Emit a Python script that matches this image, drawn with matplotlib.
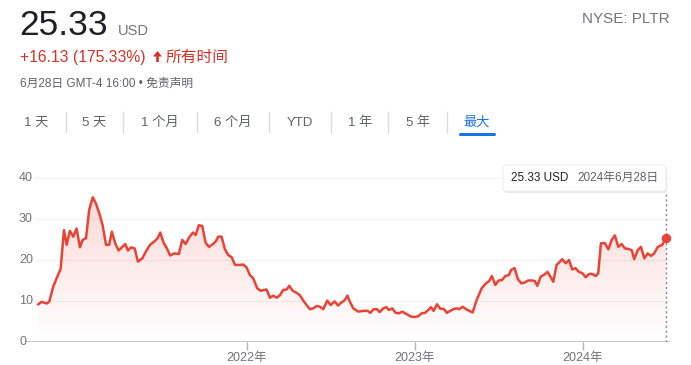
import matplotlib
matplotlib.use('Agg')
import numpy as np
from matplotlib import pyplot as plt
from matplotlib.transforms import Affine2D, blended_transform_factory
from matplotlib.patches import FancyBboxPatch, Polygon, FancyArrow

plt.rcParams['font.family'] = ['Liberation Sans', 'Noto Sans CJK SC', 'DejaVu Sans']

# time as decimal year, price in USD
t = [2020.758, 2020.778, 2020.808, 2020.823, 2020.847, 2020.867, 2020.891, 2020.911, 2020.927, 2020.946,
     2020.966, 2020.986, 2021.006, 2021.022, 2021.042, 2021.061, 2021.082, 2021.101, 2021.121, 2021.141,
     2021.161, 2021.180, 2021.196, 2021.216, 2021.236, 2021.256, 2021.276, 2021.292, 2021.311, 2021.332,
     2021.351, 2021.377, 2021.403, 2021.423, 2021.448, 2021.468, 2021.484, 2021.504, 2021.524, 2021.543,
     2021.567, 2021.595, 2021.615, 2021.635, 2021.659, 2021.679, 2021.695, 2021.714, 2021.734, 2021.754,
     2021.774, 2021.798, 2021.814, 2021.829, 2021.849, 2021.869, 2021.889, 2021.909, 2021.929, 2021.958,
     2021.978, 2021.998, 2022.018, 2022.038, 2022.061, 2022.082, 2022.101, 2022.117, 2022.137, 2022.157,
     2022.177, 2022.196, 2022.216, 2022.236, 2022.252, 2022.272, 2022.296, 2022.315, 2022.335, 2022.355,
     2022.375, 2022.395, 2022.415, 2022.435, 2022.454, 2022.478, 2022.498, 2022.522, 2022.542, 2022.561,
     2022.582, 2022.598, 2022.613, 2022.633, 2022.663, 2022.692, 2022.718, 2022.734, 2022.754, 2022.774,
     2022.790, 2022.811, 2022.829, 2022.845, 2022.865, 2022.885, 2022.905, 2022.924, 2022.951, 2022.976,
     2023.000, 2023.020, 2023.040, 2023.060, 2023.079, 2023.095, 2023.111, 2023.131, 2023.151, 2023.171,
     2023.190, 2023.210, 2023.234, 2023.248, 2023.264, 2023.284, 2023.304, 2023.323, 2023.343, 2023.367,
     2023.397, 2023.423, 2023.442, 2023.458, 2023.478, 2023.498, 2023.518, 2023.538, 2023.558, 2023.573,
     2023.593, 2023.613, 2023.633, 2023.653, 2023.673, 2023.696, 2023.713, 2023.728, 2023.748, 2023.772,
     2023.788, 2023.808, 2023.823, 2023.843, 2023.863, 2023.877, 2023.897, 2023.917, 2023.936, 2023.956,
     2023.976, 2023.996, 2024.016, 2024.036, 2024.055, 2024.076, 2024.091, 2024.107, 2024.131, 2024.151,
     2024.171, 2024.190, 2024.210, 2024.230, 2024.250, 2024.270, 2024.290, 2024.305, 2024.326, 2024.345,
     2024.365, 2024.385, 2024.405, 2024.424, 2024.445, 2024.472, 2024.492]
price = [9.2, 9.8, 9.4, 9.8, 13.5, 15.5, 17.8, 27.3, 23.7, 27.1,
         25.7, 27.7, 23.1, 24.9, 25.3, 32.2, 35.3, 33.8, 31.4, 28.5,
         23.7, 23.7, 26.9, 24.1, 22.3, 23.1, 23.9, 22.3, 23.1, 22.8,
         19.6, 20.4, 22.4, 23.7, 24.5, 25.3, 26.7, 24.2, 22.8, 21.1,
         21.6, 21.5, 24.9, 23.9, 25.7, 26.7, 26.1, 28.5, 28.3, 24.2,
         23.2, 23.9, 24.5, 25.7, 25.7, 22.6, 21.2, 20.7, 18.8, 18.8,
         18.9, 18.2, 16.3, 15.5, 13.1, 12.5, 12.7, 12.8, 10.8, 11.3,
         10.8, 11.4, 12.7, 12.8, 13.7, 12.5, 12.0, 11.4, 10.1, 9.0,
         8.0, 8.2, 8.8, 8.6, 8.0, 10.1, 9.0, 9.9, 8.9, 9.6,
         10.2, 11.3, 9.8, 8.2, 7.4, 7.6, 7.6, 7.1, 8.0, 8.0,
         7.3, 8.2, 8.5, 7.8, 8.2, 7.1, 7.0, 7.4, 6.8, 6.2,
         6.1, 6.3, 7.0, 7.1, 7.8, 8.5, 7.6, 9.2, 8.1, 8.1,
         7.1, 7.6, 8.1, 8.2, 8.0, 8.6, 8.0, 7.6, 7.2, 10.2,
         13.1, 14.3, 14.9, 16.1, 13.9, 15.0, 15.1, 16.1, 16.3, 17.6,
         18.0, 15.3, 14.3, 14.5, 15.0, 15.0, 14.9, 13.7, 15.9, 16.5,
         17.1, 15.8, 14.7, 18.8, 19.6, 20.2, 19.2, 20.0, 17.7, 18.0,
         17.1, 16.8, 15.8, 16.6, 16.6, 16.1, 16.8, 24.1, 24.1, 22.6,
         24.9, 26.0, 23.2, 23.9, 22.8, 22.7, 22.4, 20.2, 22.4, 23.2,
         20.4, 21.6, 21.0, 21.6, 23.2, 23.7, 25.33]

year_ticks = [2022, 2023, 2024]
year_labels = ['2022年', '2023年', '2024年']
y_ticks = [0, 10, 20, 30, 40]

tabs = ['1 天', '5 天', '1 个月', '6 个月', 'YTD', '1 年', '5 年', '最大']
tab_x = [36.5, 94.5, 160, 232.5, 299.5, 360, 418.5, 476.5]
sep_x = [66, 123, 197, 269, 331, 388, 447]

RED = '#ea4335'
GREY = '#70757a'
DARK = '#202124'

W, H = 691, 365
fig = plt.figure(figsize=(W / 100, H / 100), dpi=100)
pix = Affine2D().scale(1 / W, -1 / H).translate(0, 1) + fig.transFigure

# header
fig.text(19, 35, '25.33', transform=pix, fontsize=25.5, color=DARK, va='baseline')
fig.text(118, 35, 'USD', transform=pix, fontsize=10.5, color=GREY, va='baseline')
fig.text(20, 62, '+16.13 (175.33%)', transform=pix, fontsize=11.3, color='#d93025', va='baseline')
fig.add_artist(FancyArrow(157.5, 62, 0, -11, width=2.6, head_width=9, head_length=5.5,
                          length_includes_head=True, transform=pix, color='#d93025', lw=0))
fig.text(166, 62, '所有时间', transform=pix, fontsize=11.3, color='#d93025', va='baseline')
fig.text(20, 87, '6月28日 GMT-4 16:00 • 免责声明', transform=pix, fontsize=8.5, color='#5f6368', va='baseline')
fig.text(670, 23, 'NYSE: PLTR', transform=pix, fontsize=11, color=GREY, va='baseline', ha='right')

# range tabs
for lbl, x in zip(tabs, tab_x):
    c = '#1a73e8' if lbl == '最大' else '#5f6368'
    fig.text(x, 123, lbl, transform=pix, fontsize=9.5, color=c, ha='center', va='center')
for x in sep_x:
    fig.add_artist(plt.Line2D([x, x], [112, 132], transform=pix, color='#dadce0', lw=1))
fig.add_artist(FancyBboxPatch((459, 133), 37, 3, boxstyle='round,pad=0,rounding_size=1.5',
                              transform=pix, color='#1a73e8', lw=0))

# chart area
ax = fig.add_axes([26 / W, 1 - 342 / H, 644 / W, (342 - 178) / H])
for s in ax.spines.values():
    s.set_visible(False)

for v in y_ticks[1:]:
    ax.axhline(v, xmin=0.014, color='#f1f3f4', lw=1, zorder=0, clip_on=False)
ax.axhline(0, color='#b0b3b8', lw=1.8, zorder=1)

ax.plot(t, price, color=RED, lw=1.8, zorder=3, solid_joinstyle='round')

# gradient fill under the line
vmax = max(price)
poly = Polygon(np.column_stack([[t[0]] + t + [t[-1]], [0] + price + [0]]), closed=True,
               facecolor='none', edgecolor='none')
ax.add_patch(poly)
grad = np.zeros((100, 2, 4))
grad[:, :, :3] = matplotlib.colors.to_rgb(RED)
grad[:, :, 3] = np.linspace(0.0, 0.2, 100)[:, None]
im = ax.imshow(grad, extent=[t[0], t[-1], 0, vmax], origin='lower', aspect='auto', zorder=2)
im.set_clip_path(poly)

# end marker + hover line
ax.plot([t[-1], t[-1]], [0, 36.6], ls=(0, (1.5, 2)), color='#80868b', lw=1, zorder=2)
ax.scatter([t[-1]], [price[-1]], s=34, color=RED, zorder=4, clip_on=False)

ax.set_xlim(2020.685, 2024.518)
ax.set_ylim(0, 40)
ax.set_yticks([])
ax.set_xticks(year_ticks)
ax.set_xticklabels(year_labels, fontsize=9, color=GREY)
ax.tick_params(axis='x', length=6, width=1, color='#b0b3b8', pad=1)

ytr = blended_transform_factory(fig.transFigure, ax.transData)
for v in y_ticks:
    ax.text(19 / W, v, str(v), transform=ytr, fontsize=9, color=GREY, va='center', ha='left')

# tooltip
fig.add_artist(FancyBboxPatch((504, 166), 163, 27, boxstyle='round,pad=0,rounding_size=3',
                              transform=pix, facecolor='#000000', alpha=0.08, lw=0))
fig.add_artist(FancyBboxPatch((503, 165), 163, 26, boxstyle='round,pad=0,rounding_size=3',
                              transform=pix, facecolor='white', edgecolor='#e8eaed', lw=0.6))
fig.text(511, 178, '25.33 USD', transform=pix, fontsize=8.5, color=DARK, va='center')
fig.text(577, 178, '2024年6月28日', transform=pix, fontsize=8.5, color='#5f6368', va='center')

fig.savefig('out.png', dpi=100)
